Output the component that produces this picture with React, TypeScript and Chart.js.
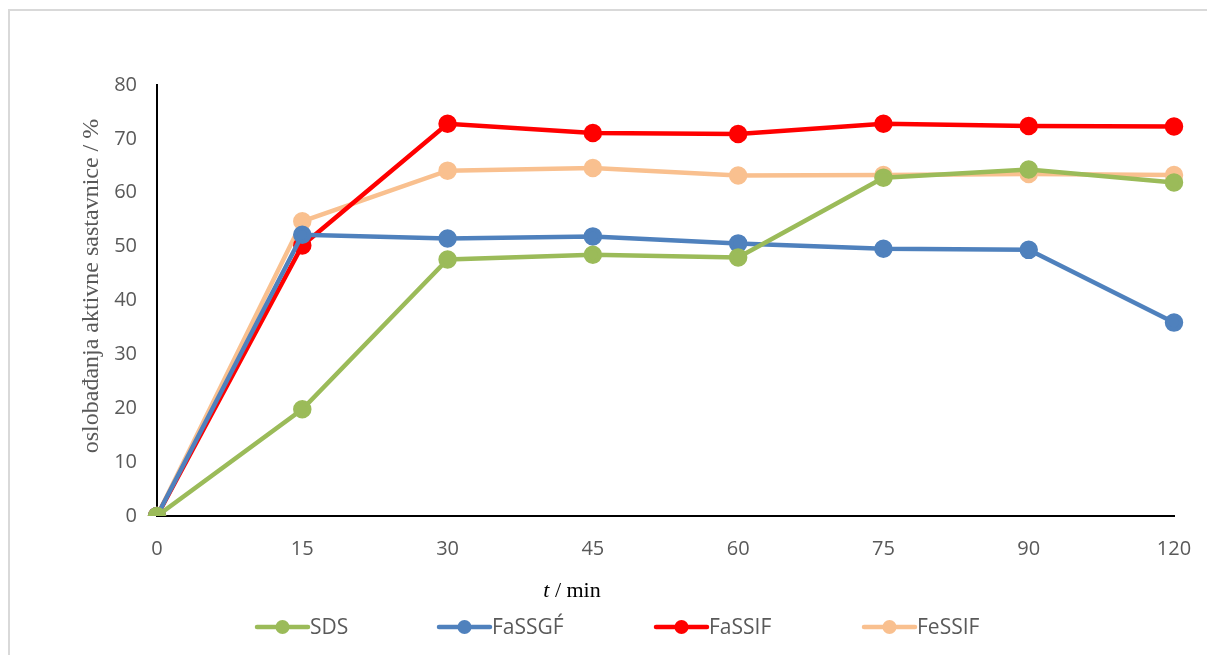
import React, { useEffect, useRef } from "react";
import { Chart, registerables } from "chart.js";

Chart.register(...registerables);

const categories = ["0", "15", "30", "45", "60", "75", "90", "120"];
const sds = [0, 19.8, 47.6, 48.5, 48.0, 62.8, 64.3, 61.9];
const fassgf = [0, 52.2, 51.5, 51.9, 50.6, 49.6, 49.4, 35.9];
const fassif = [0, 50.2, 72.8, 71.1, 70.9, 72.8, 72.4, 72.3];
const fessif = [0, 54.7, 64.1, 64.6, 63.2, 63.3, 63.5, 63.3];
const seriesNames = ["SDS", "FaSSGF\u0301", "FaSSIF", "FeSSIF"];
const seriesColors = ["#9BBB59", "#4F81BD", "#FF0000", "#F9C08F"];
const yTitle = "oslobađanja aktivne sastavnice / %";
const legendX = [255, 437, 654, 862];

const TICK_FONT = "'Open Sans', 'Noto Sans', sans-serif";
const SERIF = "'Liberation Serif', 'Times New Roman', serif";

const decorPlugin = {
  id: "decor",
  afterDraw(chart: any) {
    const ctx = chart.ctx as CanvasRenderingContext2D;
    ctx.save();
    // y title
    ctx.translate(92, 286);
    ctx.rotate(-Math.PI / 2);
    ctx.font = `24px ${SERIF}`;
    ctx.fillStyle = "#595959";
    ctx.textAlign = "center";
    ctx.textBaseline = "middle";
    ctx.fillText(yTitle, 0, 0);
    ctx.restore();

    // x title
    ctx.save();
    ctx.textBaseline = "alphabetic";
    ctx.fillStyle = "#000";
    ctx.textAlign = "left";
    ctx.font = `italic 22px ${SERIF}`;
    const tW = ctx.measureText("t").width;
    ctx.font = `22px ${SERIF}`;
    const rest = " / min";
    const rW = ctx.measureText(rest).width;
    const startX = 572 - (tW + rW) / 2;
    ctx.font = `italic 22px ${SERIF}`;
    ctx.fillText("t", startX, 597);
    ctx.font = `22px ${SERIF}`;
    ctx.fillText(rest, startX + tW, 597);
    ctx.restore();

    // legend
    ctx.save();
    const ly = 627;
    seriesNames.forEach((name, i) => {
      const x0 = legendX[i];
      ctx.strokeStyle = seriesColors[i];
      ctx.lineWidth = 4.5;
      ctx.lineCap = "round";
      ctx.beginPath();
      ctx.moveTo(x0 + 2, ly);
      ctx.lineTo(x0 + 53, ly);
      ctx.stroke();
      ctx.fillStyle = seriesColors[i];
      ctx.beginPath();
      ctx.arc(x0 + 27.5, ly, 7, 0, Math.PI * 2);
      ctx.fill();
      ctx.fillStyle = "#595959";
      ctx.font = `21px ${TICK_FONT}`;
      ctx.textAlign = "left";
      ctx.textBaseline = "middle";
      ctx.fillText(name, x0 + 55, ly + 1);
    });
    ctx.restore();
  },
};

export default function App() {
  const canvasRef = useRef<HTMLCanvasElement | null>(null);

  useEffect(() => {
    const canvas = canvasRef.current;
    if (!canvas) return;
    const allData = [sds, fassgf, fassif, fessif];
    const chart = new Chart(canvas, {
      type: "line",
      data: {
        labels: categories,
        datasets: allData.map((d, i) => ({
          label: seriesNames[i],
          data: d,
          borderColor: seriesColors[i],
          backgroundColor: seriesColors[i],
          pointBackgroundColor: seriesColors[i],
          pointBorderColor: seriesColors[i],
          borderWidth: 4.5,
          pointRadius: 7,
          pointHoverRadius: 7,
          tension: 0,
          fill: false,
        })),
      },
      options: {
        animation: false,
        responsive: false,
        maintainAspectRatio: false,
        layout: { padding: { left: 0, right: 33, top: 85, bottom: 0 } },
        plugins: {
          legend: { display: false },
          tooltip: { enabled: false },
          title: { display: false },
        },
        scales: {
          x: {
            type: "category",
            offset: false,
            grid: {
              display: true,
              drawOnChartArea: false,
              drawTicks: true,
              tickLength: 21,
              tickColor: "rgba(0,0,0,0)",
            },
            border: { display: true, color: "#000", width: 2 },
            ticks: {
              color: "#595959",
              font: { family: TICK_FONT, size: 20 },
              padding: 0,
              maxRotation: 0,
              autoSkip: false,
            },
            afterFit: (scale: any) => {
              scale.height = 139;
            },
          },
          y: {
            min: 0,
            max: 80,
            grid: { display: false, drawTicks: false },
            border: { display: true, color: "#000", width: 2 },
            ticks: {
              stepSize: 10,
              color: "#595959",
              font: { family: TICK_FONT, size: 20 },
              padding: 20,
            },
            afterFit: (scale: any) => {
              scale.width = 157;
            },
          },
        },
      },
      plugins: [decorPlugin],
    });
    return () => chart.destroy();
  }, []);

  return (
    <div style={{ position: "fixed", left: 0, top: 0, width: 1207, height: 655, background: "#fff", overflow: "hidden" }}>
      <div
        style={{
          position: "absolute",
          left: 8,
          top: 9,
          width: 1300,
          height: 800,
          borderLeft: "2px solid #d9d9d9",
          borderTop: "2px solid #d9d9d9",
        }}
      />
      <canvas ref={canvasRef} width={1207} height={655} style={{ position: "absolute", left: 0, top: 0 }} />
    </div>
  );
}
